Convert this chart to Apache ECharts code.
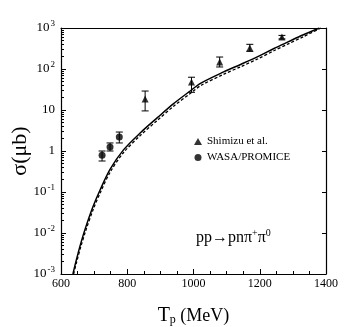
<!DOCTYPE html>
<html>
<head>
<meta charset="utf-8">
<script src="https://cdn.jsdelivr.net/npm/echarts@6/dist/echarts.min.js"></script>
<style>html,body{margin:0;padding:0;background:#fff;}#c{width:354px;height:327px;}</style>
</head>
<body>
<div id="c"></div>
<script>
// Theory curves (T_p in MeV, sigma in microbarn)
var solidT = [636, 645, 658, 673, 697, 718, 748, 788, 839, 891, 939, 991, 1021, 1091, 1142, 1194, 1243, 1285, 1330, 1380];
var solidS = [0.001, 0.002, 0.005, 0.0126, 0.0447, 0.112, 0.355, 1.05, 2.75, 6.5, 14.1, 29.5, 44.7, 85, 129, 200, 316, 457, 676, 1000];
var dashT = [638, 646, 659, 674, 698, 719, 749, 789, 840, 892, 940, 992, 1022, 1092, 1143, 1195, 1244, 1286, 1331, 1385];
var dashS = [0.001, 0.0018, 0.0044, 0.011, 0.039, 0.098, 0.31, 0.92, 2.42, 5.7, 12.4, 26, 39.5, 75, 114, 178, 282, 410, 610, 1000];
// Shimizu et al. (triangles)
var shimT = [854, 994, 1079, 1170, 1267];
var shimS = [18.6, 48, 148, 327, 600];
var shimLo = [9.5, 27, 112, 270, 540];
var shimHi = [29, 63, 196, 400, 660];
// WASA/PROMICE (circles)
var wasaT = [724, 748, 776];
var wasaS = [0.79, 1.25, 2.2];
var wasaLo = [0.57, 1.0, 1.57];
var wasaHi = [1.0, 1.57, 2.9];
var xTicks = [600, 800, 1000, 1200, 1400];
var yTicks = [0.001, 0.01, 0.1, 1, 10, 100, 1000];

function zip(a, b) { return a.map(function (v, i) { return [v, b[i]]; }); }
function errData(t, lo, hi) { return t.map(function (v, i) { return [v, lo[i], hi[i]]; }); }
function errRender(params, api) {
  var x = api.value(0);
  var lo = api.coord([x, api.value(1)]);
  var hi = api.coord([x, api.value(2)]);
  var w = 3.5;
  var st = { stroke: '#000', lineWidth: 1 };
  return { type: 'group', children: [
    { type: 'line', shape: { x1: lo[0], y1: lo[1], x2: hi[0], y2: hi[1] }, style: st },
    { type: 'line', shape: { x1: lo[0] - w, y1: lo[1], x2: lo[0] + w, y2: lo[1] }, style: st },
    { type: 'line', shape: { x1: hi[0] - w, y1: hi[1], x2: hi[0] + w, y2: hi[1] }, style: st }
  ]};
}
var serif = '"Liberation Serif", "DejaVu Serif", serif';
var chart = echarts.init(document.getElementById('c'), null, { renderer: 'canvas' });
chart.setOption({
  animation: false,
  backgroundColor: '#fff',
  textStyle: { fontFamily: serif, color: '#000' },
  grid: { left: 61, right: 28, top: 28, bottom: 53, containLabel: false, outerBoundsMode: 'none' },
  xAxis: [{
    type: 'value', min: 600, max: 1400, interval: 200,
    axisLine: { lineStyle: { color: '#000', width: 1.2 } },
    axisTick: { inside: true, length: 5, lineStyle: { color: '#000' } },
    minorTick: { show: true, splitNumber: 4, length: 3, lineStyle: { color: '#000' } },
    splitLine: { show: false },
    axisLabel: { color: '#000', fontFamily: serif, fontSize: 12, margin: 4,
      formatter: function (v) { return xTicks.indexOf(v) >= 0 ? String(v) : ''; } },
    name: '{t|T}{s|p}{m| (MeV)}', nameLocation: 'middle', nameGap: 32,
    nameTextStyle: { rich: {
      t: { fontFamily: serif, fontSize: 20, color: '#000' },
      s: { fontFamily: serif, fontSize: 12, color: '#000', padding: [8, 0, 0, 0] },
      m: { fontFamily: serif, fontSize: 18, color: '#000' } } }
  }, {
    type: 'value', position: 'top', min: 600, max: 1400, interval: 200,
    axisLine: { show: true, lineStyle: { color: '#000', width: 1.2 } },
    axisTick: { show: false }, axisLabel: { show: false }, splitLine: { show: false }
  }],
  yAxis: [{
    type: 'log', logBase: 10, min: 0.001, max: 1000,
    axisLine: { show: true, lineStyle: { color: '#000', width: 1.2 } },
    axisTick: { inside: true, length: 5, lineStyle: { color: '#000' } },
    minorTick: { show: true, splitNumber: 9, length: 3, lineStyle: { color: '#000' } },
    splitLine: { show: false },
    axisLabel: { color: '#000', margin: 6,
      formatter: function (v) {
        var e = Math.round(Math.log10(v));
        if (e === 0) return '{b|1}';
        if (e === 1) return '{b|10}';
        return '{b|10}{p|' + e + '}';
      },
      rich: {
        b: { fontFamily: serif, fontSize: 13, color: '#000' },
        p: { fontFamily: serif, fontSize: 9, color: '#000', padding: [0, 0, 9, 1] }
      } },
    name: 'σ(μb)', nameLocation: 'middle', nameGap: 30, nameMoveOverlap: false,
    nameTextStyle: { fontFamily: serif, fontSize: 22, color: '#000' }
  }, {
    type: 'log', logBase: 10, min: 0.001, max: 1000, position: 'right',
    axisLine: { show: true, lineStyle: { color: '#000', width: 1.2 } },
    axisTick: { show: true, inside: true, length: 4, lineStyle: { color: '#000' } },
    axisLabel: { show: false }, splitLine: { show: false }
  }],
  legend: {
    orient: 'vertical', left: 189, top: 131, itemGap: 5, itemWidth: 8, itemHeight: 7,
    textStyle: { fontFamily: serif, fontSize: 11, color: '#000', padding: [0, 0, 0, 0] },
    data: [{ name: 'Shimizu et al.', icon: 'triangle' }, { name: 'WASA/PROMICE', icon: 'circle' }]
  },
  graphic: [{
    type: 'text', left: 196, top: 228,
    style: { text: '{a|pp→pnπ}{s|+}{a|π}{s|0}', rich: {
      a: { fontFamily: serif, fontSize: 16, fill: '#000' },
      s: { fontFamily: serif, fontSize: 10, fill: '#000', padding: [0, 0, 10, 0] } } }
  }],
  series: [
    { type: 'line', data: zip(solidT, solidS), showSymbol: false, smooth: 0.3, clip: true,
      lineStyle: { color: '#000', width: 1.5 }, silent: true },
    { type: 'line', data: zip(dashT, dashS), showSymbol: false, smooth: 0.3, clip: true,
      lineStyle: { color: '#000', width: 1.3, type: [3, 2] }, silent: true },
    { type: 'custom', data: errData(shimT, shimLo, shimHi), renderItem: errRender, z: 3 },
    { type: 'custom', data: errData(wasaT, wasaLo, wasaHi), renderItem: errRender, z: 3 },
    { name: 'Shimizu et al.', type: 'scatter', data: zip(shimT, shimS), symbol: 'triangle', symbolSize: 7,
      itemStyle: { color: '#000' }, z: 4 },
    { name: 'WASA/PROMICE', type: 'scatter', data: zip(wasaT, wasaS), symbol: 'circle', symbolSize: 7,
      itemStyle: { color: '#000' }, z: 4 }
  ]
});
</script>
</body>
</html>
